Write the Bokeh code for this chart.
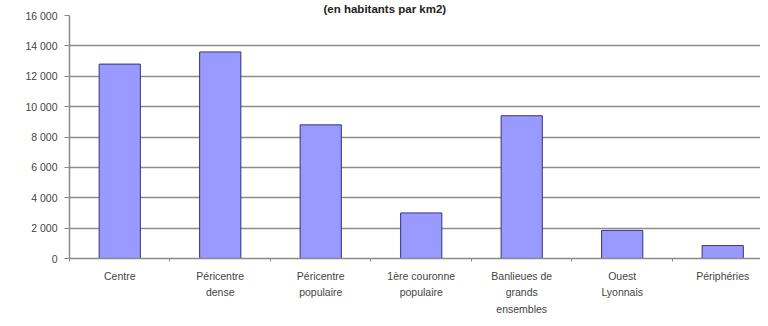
from bokeh.plotting import figure
from bokeh.models import FixedTicker, Range1d, ColumnDataSource
from bokeh.embed import file_html
from bokeh.resources import INLINE

categories = ["Centre", "Péricentre dense", "Péricentre populaire",
              "1ère couronne populaire", "Banlieues de grands ensembles",
              "Ouest Lyonnais", "Périphéries"]
tick_labels = ["Centre", "Péricentre\ndense", "Péricentre\npopulaire",
               "1ère couronne\npopulaire", "Banlieues de\ngrands\nensembles",
               "Ouest\nLyonnais", "Périphéries"]
values = [12800, 13600, 8800, 3000, 9400, 1850, 850]
y_ticks = [0, 2000, 4000, 6000, 8000, 10000, 12000, 14000, 16000]
y_tick_labels = ["0", "2 000", "4 000", "6 000", "8 000", "10 000", "12 000", "14 000", "16 000"]
title_text = "(en habitants par km2)"

centers = [i + 0.5 for i in range(len(categories))]
src = ColumnDataSource(dict(x=centers, top=values, cat=categories))

W, H = 760, 318
p = figure(width=W, height=H, output_backend="svg", toolbar_location=None,
           title=title_text,
           x_range=Range1d(0, 6.876), y_range=Range1d(0, 16000),
           min_border_left=69, min_border_right=0, min_border_top=15, min_border_bottom=59)
p.outline_line_color = None
p.background_fill_color = "white"
p.border_fill_color = "white"

font = "Liberation Sans"
p.title.text_font = font
p.title.text_font_size = "11.5px"
p.title.text_font_style = "bold"
p.title.text_color = "#222222"
p.title.align = "left"
p.title.offset = 254
p.title.standoff = 1

p.vbar(x="x", top="top", width=0.41, source=src,
       fill_color="#9999FF", line_color="#333380", line_width=1)

# y axis
p.yaxis.ticker = FixedTicker(ticks=y_ticks)
p.yaxis.major_label_overrides = {t: l for t, l in zip(y_ticks, y_tick_labels)}
p.yaxis.major_label_text_font = font
p.yaxis.major_label_text_font_size = "10.5px"
p.yaxis.major_label_text_color = "#444444"
p.yaxis.axis_line_color = "#8a8a8a"
p.yaxis.axis_line_width = 1.5
p.yaxis.major_tick_line_color = "#8a8a8a"
p.yaxis.major_tick_in = 0
p.yaxis.major_tick_out = 5
p.yaxis.minor_tick_line_color = None
p.yaxis.major_label_standoff = 7

# x axis
p.xaxis.ticker = FixedTicker(ticks=centers, minor_ticks=list(range(len(categories) + 1)))
p.xaxis.major_label_overrides = {c: l for c, l in zip(centers, tick_labels)}
p.xaxis.major_label_text_font = font
p.xaxis.major_label_text_font_size = "10.5px"
p.xaxis.major_label_text_color = "#444444"
p.xaxis.major_label_text_line_height = 1.4
p.xaxis.axis_line_color = "#8a8a8a"
p.xaxis.axis_line_width = 1.5
p.xaxis.major_tick_line_color = None
p.xaxis.minor_tick_line_color = "#8a8a8a"
p.xaxis.minor_tick_in = 0
p.xaxis.minor_tick_out = 3
p.xaxis.major_label_standoff = 5

p.xgrid.grid_line_color = None
p.ygrid.ticker = FixedTicker(ticks=y_ticks)
p.ygrid.grid_line_color = "#8c8c8c"
p.ygrid.grid_line_width = 1.6

open("out.html", "w").write(file_html(p, INLINE))
